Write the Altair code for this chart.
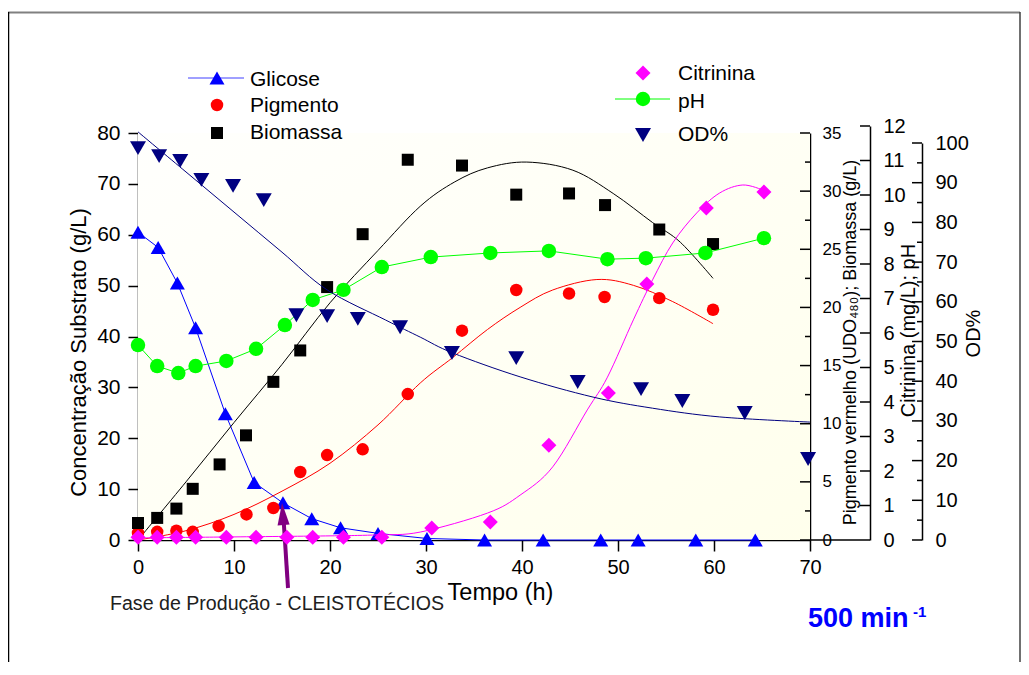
import altair as alt
import pandas as pd

# ---------------- data ----------------
# Glicose (g/L) - left axis
glic_t = [0, 2.1, 4.1, 6.0, 9.1, 12.1, 15.1, 18.1, 21.1, 25.0, 30.1, 36.1, 42.2, 48.2, 52.1, 58.1, 64.3]
glic_v = [60.5, 57.5, 50.5, 41.7, 24.8, 11.3, 7.3, 4.2, 2.4, 1.3, 0.3, 0.0, 0.0, 0.0, 0.0, 0.0, 0.0]

# Pigmento (UDO480) - right axis 1
pig_t = [0, 2.0, 4.0, 5.7, 8.4, 11.3, 14.1, 16.9, 19.7, 23.4, 28.1, 33.75, 39.4, 44.9, 48.6, 54.3, 59.9]
pig_v = [0.6, 0.7, 0.8, 0.7, 1.2, 2.2, 2.75, 5.85, 7.3, 7.8, 12.55, 18.0, 21.5, 21.2, 20.9, 20.8, 19.8]
pig_curve_t = [0, 5, 10, 15, 20, 25, 29.4, 32.8, 36.4, 39.8, 43.2, 47.8, 51.6, 55.7, 59.9]
pig_curve_v = [0, 0.8, 2.2, 4.2, 6.6, 9.9, 13.5, 15.7, 18.1, 20.0, 21.5, 22.4, 21.9, 20.5, 18.6]

# Biomassa (g/L) - right axis 1
bio_t = [0, 2.0, 4.0, 5.7, 8.5, 11.25, 14.1, 16.9, 19.7, 23.4, 28.1, 33.75, 39.4, 44.9, 48.65, 54.3, 59.9]
bio_v = [1.46, 1.9, 2.7, 4.4, 6.5, 9.0, 13.6, 16.3, 21.75, 26.3, 32.7, 32.2, 29.7, 29.8, 28.8, 26.7, 25.45]
bio_curve_t = [0, 5, 10, 15, 20, 25, 29.4, 33, 36.4, 40.5, 45.3, 49.5, 53.6, 56.5, 59.9]
bio_curve_v = [0, 5.0, 10.1, 15.1, 20.4, 24.9, 28.7, 30.8, 32.0, 32.5, 31.8, 29.8, 27.3, 25.6, 22.5]

# Citrinina (mg/L) - right axis 2
cit_t = [0, 2.0, 4.0, 6.0, 9.2, 12.3, 15.5, 18.2, 21.4, 25.4, 30.6, 36.7, 42.8, 49.0, 53.0, 59.2, 65.2]
cit_v = [0.08, 0.08, 0.08, 0.08, 0.08, 0.08, 0.08, 0.08, 0.08, 0.08, 0.35, 0.52, 2.75, 4.26, 7.42, 9.62, 10.09]
cit_curve_t = [0, 10, 20, 25, 29.4, 36.4, 39.8, 43.2, 46.8, 48.9, 51.6, 53.6, 55.7, 58.2, 60.6, 63.0, 65.1]
cit_curve_v = [0.06, 0.09, 0.12, 0.15, 0.23, 0.78, 1.30, 2.12, 3.77, 4.72, 6.38, 7.54, 8.61, 9.48, 10.06, 10.29, 10.14]

# pH - right axis 2
ph_t = [0, 2.0, 4.2, 6.0, 9.2, 12.3, 15.3, 18.2, 21.4, 25.4, 30.5, 36.7, 42.8, 48.9, 52.9, 59.1, 65.2]
ph_v = [5.65, 5.04, 4.84, 5.04, 5.19, 5.54, 6.23, 6.96, 7.25, 7.91, 8.2, 8.32, 8.38, 8.14, 8.17, 8.32, 8.75]

# OD% - right axis 3
od_t = [0, 2.2, 4.4, 6.6, 9.9, 13.1, 16.5, 19.7, 22.9, 27.3, 32.7, 39.4, 45.8, 52.4, 56.7, 63.2, 69.8]
od_v = [98.7, 96.7, 95.5, 90.7, 89.2, 85.6, 56.6, 56.4, 55.7, 53.6, 47.1, 45.8, 39.8, 38.0, 35.0, 32.0, 20.4]
od_curve_t = [0, 5, 10, 15, 19.7, 25.8, 29.4, 32.8, 39.8, 47.4, 53.6, 60.6, 70]
od_curve_v = [102.8, 92.7, 82.6, 72.5, 63.0, 55.4, 51.1, 47.1, 41.1, 36.0, 33.2, 31.0, 29.7]

# axis tick values
x_ticks = [0, 10, 20, 30, 40, 50, 60, 70]
left_ticks = [0, 10, 20, 30, 40, 50, 60, 70, 80]
ax1_major = [0, 5, 10, 15, 20, 25, 30, 35]
ax1_minor = [2.5, 7.5, 12.5, 17.5, 22.5, 27.5, 32.5]
ax2_ticks = [0, 1, 2, 3, 4, 5, 6, 7, 8, 9, 10, 11, 12]
ax3_major = [0, 10, 20, 30, 40, 50, 60, 70, 80, 90, 100]
ax3_minor = [5, 15, 25, 35, 45, 55, 65, 75, 85, 95]

# ---------------- layout ----------------
W, H = 672, 407
FONT = "Liberation Sans"
OFF2, OFF3 = 60, 112

one = pd.DataFrame({"k": [0]})


def df(t, v):
    return pd.DataFrame({"x": t, "y": v})


xaxis = alt.Axis(values=x_ticks, title="Tempo (h)", titleFontSize=23.5, titleFontWeight="normal",
                 titleX=362, titleY=59, titleAlign="center", titleBaseline="alphabetic",
                 labelFontSize=20, tickSize=11, labelPadding=6, labelFlush=False, labelOverlap=False,
                 domainWidth=1.5, tickWidth=1.5)
X = alt.X("x:Q", scale=alt.Scale(domain=[0, 70], nice=False, zero=False), axis=xaxis)

# left axis
Y0 = alt.Y("y:Q", scale=alt.Scale(domain=[0, 80], nice=False),
           axis=alt.Axis(orient="left", values=left_ticks, title="Concentração Substrato (g/L)",
                         titleFontSize=22, titleFontWeight="normal", titleAngle=270,
                         titleX=-53, titleY=219, titleAlign="center", titleBaseline="alphabetic",
                         labelFontSize=21, tickSize=10, labelPadding=8, labelOverlap=False,
                         domainWidth=1.5, tickWidth=1.5))
# right axis 1
Y1 = alt.Y("y:Q", scale=alt.Scale(domain=[0, 35], nice=False),
           axis=alt.Axis(orient="right", values=ax1_major,
                         title="Pigmento vermelho (UDO₄₈₀); Biomassa (g/L)",
                         titleFontSize=18, titleFontWeight="normal", titleAngle=270,
                         titleX=45, titleY=209, titleAlign="center", titleBaseline="alphabetic",
                         labelFontSize=17, ticks=False, tickSize=0, labelPadding=12,
                         labelOverlap=False, domainWidth=1.5))
# right axis 2
Y2 = alt.Y("y:Q", scale=alt.Scale(domain=[0, 12], range=[H, -7], nice=False),
           axis=alt.Axis(orient="right", offset=OFF2, values=ax2_ticks, title="Citrinina (mg/L); pH",
                         titleFontSize=20, titleFontWeight="normal", titleAngle=270,
                         titleX=44, titleY=197, titleAlign="center", titleBaseline="alphabetic",
                         labelFontSize=20, ticks=False, tickSize=0, labelPadding=13,
                         labelOverlap=False, domainWidth=1.5))
# right axis 3
Y3 = alt.Y("y:Q", scale=alt.Scale(domain=[0, 100], range=[H, 10], nice=False),
           axis=alt.Axis(orient="right", offset=OFF3, values=ax3_major, title="OD%",
                         titleFontSize=20, titleFontWeight="normal", titleAngle=270,
                         titleX=57, titleY=200, titleAlign="center", titleBaseline="alphabetic",
                         labelFontSize=20, ticks=False, tickSize=0, labelPadding=13,
                         labelOverlap=False, domainWidth=1.5))


def points(d, Y, shape, color, size):
    return alt.Chart(d).mark_point(shape=shape, filled=True, color=color, size=size,
                                   opacity=1, strokeWidth=0).encode(x=X, y=Y)


def curve(d, Y, color, interp="cardinal"):
    return alt.Chart(d).mark_line(color=color, strokeWidth=1, interpolate=interp).encode(x=X, y=Y)


def ticks(vals, Y, x0, x1):
    return alt.Chart(pd.DataFrame({"y": vals})).mark_rule(color="black", strokeWidth=1.5).encode(
        y=Y, x=alt.value(x0), x2=alt.value(x1))


def txt(s, x, y, size, color="black", weight="normal", align="left"):
    return alt.Chart(one).mark_text(text=s, font=FONT, fontSize=size, color=color, fontWeight=weight,
                                    align=align, baseline="alphabetic").encode(
        x=alt.value(x), y=alt.value(y))


def sym(shape, color, size, x, y):
    return alt.Chart(one).mark_point(shape=shape, filled=True, color=color, size=size,
                                     opacity=1, strokeWidth=0).encode(x=alt.value(x), y=alt.value(y))


def seg(color, x0, x1, y0, y1, w=1):
    return alt.Chart(one).mark_rule(color=color, strokeWidth=w).encode(
        x=alt.value(x0), x2=alt.value(x1), y=alt.value(y0), y2=alt.value(y1))


bg = alt.Chart(one).mark_rect(fill={"gradient": "linear", "x1": 0, "y1": 0, "x2": 1, "y2": 1,
                                    "stops": [{"offset": 0, "color": "#FFFFFD"},
                                              {"offset": 1, "color": "#FFFFEC"}]}).encode(
    x=alt.value(0), x2=alt.value(W), y=alt.value(0), y2=alt.value(H))

glic_df = df(glic_t, glic_v)
left = alt.layer(
    bg,
    seg("#808080", -130, 882, -120.5, -120.5, 2),
    seg("black", -129.5, -129.5, -121, 545, 1.5),
    seg("#404040", 882, 882, -121, 545, 1.5),
    seg("black", W, W + 50, H, H, 1.5),
    curve(glic_df, Y0, "#0000FF", "linear"),
    points(glic_df, Y0, "triangle-up", "#0000FF", 225),
    # legends
    seg("#4040FF", 50, 106, -55, -55),
    sym("triangle-up", "#0000FF", 225, 79, -55),
    sym("circle", "#FF0000", 156, 79, -28),
    sym("square", "black", 144, 79, 0),
    txt("Glicose", 112, -47, 21),
    txt("Pigmento", 112, -21, 21),
    txt("Biomassa", 112, 5.5, 21),
    sym("diamond", "#FF00FF", 225, 505, -60),
    seg("#00FF00", 477, 532, -34, -34),
    sym("circle", "#00FF00", 210, 505, -34),
    sym("triangle-down", "#000080", 256, 505, 2),
    txt("Citrinina", 540, -53, 21),
    txt("pH", 540, -25, 21),
    txt("OD%", 540, 8, 21),
    # annotation arrow
    seg("#800080", 150, 145.5, 455, 385, 4),
    alt.Chart(one).mark_point(shape="M0,-1L-0.55,1L0.55,1Z", filled=True, color="#800080",
                              size=484, opacity=1, strokeWidth=0, angle=356).encode(
        x=alt.value(144.8), y=alt.value(381)),
    txt("Fase de Produção - CLEISTOTÉCIOS", -28, 477, 19.6, color="#202020"),
    txt("500 min", 670, 494, 27, color="#0000FF", weight="bold"),
    txt("-1", 775, 484, 15, color="#0000FF", weight="bold"),
)

ax1 = alt.layer(
    ticks(ax1_major, Y1, W - 10, W),
    ticks(ax1_minor, Y1, W - 5, W),
    curve(df(pig_curve_t, pig_curve_v), Y1, "#FF0000"),
    curve(df(bio_curve_t, bio_curve_v), Y1, "black"),
    points(df(pig_t, pig_v), Y1, "circle", "#FF0000", 156),
    points(df(bio_t, bio_v), Y1, "square", "black", 144),
)

ph_df = df(ph_t, ph_v)
ax2 = alt.layer(
    ticks(ax2_ticks, Y2, W + OFF2 - 10, W + OFF2),
    curve(df(cit_curve_t, cit_curve_v), Y2, "#FF00FF"),
    curve(ph_df, Y2, "#00FF00", "linear"),
    points(ph_df, Y2, "circle", "#00FF00", 210),
    points(df(cit_t, cit_v), Y2, "diamond", "#FF00FF", 225),
)

ax3 = alt.layer(
    ticks(ax3_major, Y3, W + OFF3 - 10, W + OFF3),
    ticks(ax3_minor, Y3, W + OFF3 - 5, W + OFF3),
    curve(df(od_curve_t, od_curve_v), Y3, "#000080"),
    points(df(od_t, od_v), Y3, "triangle-down", "#000080", 256),
)

chart = alt.layer(left, ax1, ax2, ax3).resolve_scale(y="independent").properties(
    width=W, height=H,
    autosize=alt.AutoSizeParams(type="none"),
    padding={"left": 130, "top": 125, "right": 211, "bottom": 122},
    background="white",
).configure_axis(
    labelFont=FONT, titleFont=FONT, grid=False, labelColor="black", titleColor="black",
    domainColor="black", tickColor="black",
).configure_view(stroke=None)

chart.save("out.html", embed_options={"renderer": "svg", "actions": False})
